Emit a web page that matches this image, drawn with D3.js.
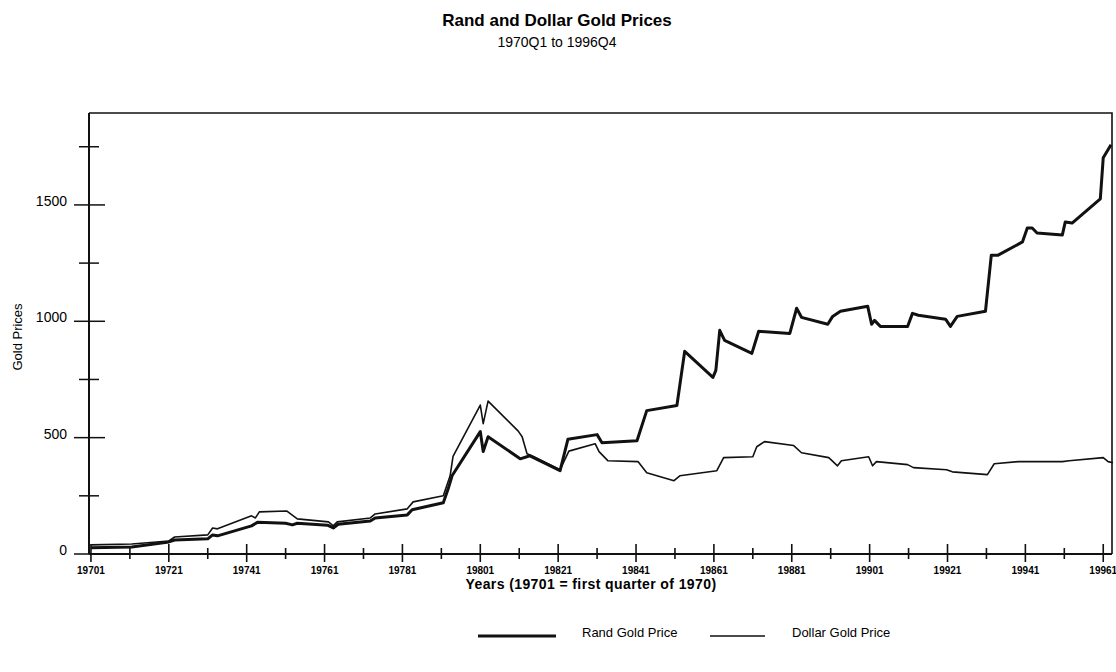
<!DOCTYPE html>
<html>
<head>
<meta charset="utf-8">
<script src="https://cdn.jsdelivr.net/npm/d3@7"></script>
<style>
  body { margin: 0; background: #fff; }
  svg { display: block; font-family: Arial, "Liberation Sans", sans-serif; }
</style>
</head>
<body>
<div id="canvas"></div>
<script>
// quarters since 1970Q1 (0 = 19701) and prices
var randQuarter = [0, 4.2, 8, 8.6, 12, 12.5, 13, 16.5, 17.1, 20, 20.7, 21.2, 24.3, 24.9, 25.4,
    28.7, 29.2, 32.5, 33, 36.2, 36.7, 37.1, 40, 40.3, 40.8, 44.1, 45.1, 48.2, 49, 52,
    52.5, 56.1, 57.1, 60.2, 61, 63.9, 64.2, 64.6, 65.1, 67.9, 68.6, 71.8, 72.5, 73, 75.7,
    76.2, 77, 79.8, 80.2, 80.5, 81.1, 83.9, 84.4, 85, 87.8, 88.3, 89, 91.9, 92.5, 93.2,
    95.7, 96.2, 96.7, 97.2, 99.8, 100.1, 100.8, 103.7, 104, 104.8];
var randPrice = [27, 30, 52, 60, 65, 82, 78, 121, 136, 132, 125, 132, 124, 112, 128,
    142, 155, 168, 190, 220, 280, 336, 526, 440, 504, 409, 422, 358, 493, 513,
    478, 487, 616, 638, 871, 759, 789, 961, 918, 862, 957, 948, 1056, 1017, 987,
    1021, 1043, 1065, 987, 1004, 978, 978, 1034, 1026, 1009, 978, 1021, 1043, 1284, 1284,
    1341, 1401, 1401, 1379, 1371, 1427, 1422, 1526, 1703, 1759];

var dollarQuarter = [0, 4.2, 8, 8.6, 12, 12.5, 13, 16.5, 16.9, 17.3, 20.1, 21.2, 24.4, 24.9, 25.3,
    28.7, 29.2, 32.5, 33.1, 36.2, 36.9, 37.2, 40, 40.3, 40.8, 43.9, 44.3, 44.8, 45.3, 48.2,
    49.1, 51.8, 52.2, 53.1, 56.2, 57.1, 59.9, 60.5, 64.3, 65, 68, 68.4, 69.2, 72.2, 73,
    75.8, 76.7, 77.1, 79.9, 80.3, 80.7, 83.9, 84.5, 87.9, 88.5, 92.1, 92.8, 95.3, 99.8, 100.5,
    104, 104.5, 105];
var dollarPrice = [39, 43, 56, 73, 82, 112, 108, 164, 155, 181, 185, 151, 138, 121, 138,
    155, 172, 194, 224, 250, 336, 420, 640, 560, 657, 528, 504, 431, 422, 362,
    442, 474, 440, 401, 397, 349, 315, 336, 358, 414, 418, 461, 483, 466, 435,
    414, 379, 401, 418, 379, 397, 384, 371, 362, 353, 341, 388, 397, 397, 401,
    414, 397, 392];

var xTickLabels = ["19701", "19721", "19741", "19761", "19781", "19801", "19821",
    "19841", "19861", "19881", "19901", "19921", "19941", "19961"];
var yTickValues = [0, 500, 1000, 1500];
var yMinorValues = [250, 750, 1250, 1750];

var width = 1116, height = 672;
var plotLeft = 89, plotRight = 1112, plotTop = 113, plotBottom = 554;

var svg = d3.select(document.getElementById("canvas")).append("svg")
    .attr("width", width)
    .attr("height", height);

var x = d3.scaleLinear().domain([-0.2, 104.9]).range([plotLeft, plotRight]);
var y = d3.scaleLinear().domain([0, 1895]).range([plotBottom, plotTop]);

// title
svg.append("text")
    .attr("x", 557).attr("y", 26)
    .attr("text-anchor", "middle")
    .style("font-size", "17px").style("font-weight", "bold")
    .text("Rand and Dollar Gold Prices");
svg.append("text")
    .attr("x", 557).attr("y", 47)
    .attr("text-anchor", "middle")
    .style("font-size", "14px")
    .text("1970Q1 to 1996Q4");

// frame (top, right) - left and bottom come from the axes
svg.append("path")
    .attr("d", "M" + plotLeft + "," + plotTop + "H" + plotRight + "V" + plotBottom)
    .attr("fill", "none")
    .attr("stroke", "#111")
    .attr("stroke-width", 1.6);

// y axis, ticks cross the axis line
var yAxis = svg.append("g").attr("transform", "translate(" + plotLeft + ",0)");
yAxis.append("line")
    .attr("y1", plotTop).attr("y2", plotBottom)
    .attr("stroke", "#111").attr("stroke-width", 2);
yAxis.selectAll(".ymajor").data(yTickValues).enter().append("line")
    .attr("x1", -15).attr("x2", 16)
    .attr("y1", function(d) { return y(d); })
    .attr("y2", function(d) { return y(d); })
    .attr("stroke", "#111").attr("stroke-width", 1.5);
yAxis.selectAll(".yminor").data(yMinorValues).enter().append("line")
    .attr("x1", -10).attr("x2", 10)
    .attr("y1", function(d) { return y(d); })
    .attr("y2", function(d) { return y(d); })
    .attr("stroke", "#111").attr("stroke-width", 1.5);
yAxis.selectAll(".ylabel").data(yTickValues).enter().append("text")
    .attr("x", -22)
    .attr("y", function(d) { return y(d) + 1; })
    .attr("text-anchor", "end")
    .style("font-size", "14px")
    .text(function(d) { return d; });

svg.append("text")
    .attr("transform", "translate(22,337) rotate(-90)")
    .attr("text-anchor", "middle")
    .style("font-size", "13px")
    .text("Gold Prices");

// x axis: labelled tick every 2 years, minor tick every year between
var xAxis = svg.append("g").attr("transform", "translate(0," + plotBottom + ")");
xAxis.append("line")
    .attr("x1", plotLeft).attr("x2", plotRight)
    .attr("stroke", "#111").attr("stroke-width", 2);
xAxis.selectAll(".xmajor").data(xTickLabels).enter().append("line")
    .attr("x1", function(d, i) { return x(i * 8); })
    .attr("x2", function(d, i) { return x(i * 8); })
    .attr("y1", -10).attr("y2", 8)
    .attr("stroke", "#111").attr("stroke-width", 1.6);
xAxis.selectAll(".xminor").data(xTickLabels.slice(0, -1)).enter().append("line")
    .attr("x1", function(d, i) { return x(i * 8 + 4); })
    .attr("x2", function(d, i) { return x(i * 8 + 4); })
    .attr("y1", -6).attr("y2", 5)
    .attr("stroke", "#111").attr("stroke-width", 1.6);
xAxis.selectAll(".xlabel").data(xTickLabels).enter().append("text")
    .attr("x", function(d, i) { return x(i * 8); })
    .attr("y", 20)
    .attr("text-anchor", "middle")
    .style("font-size", "10px").style("font-weight", "bold")
    .text(function(d) { return d; });

svg.append("text")
    .attr("x", 591).attr("y", 589)
    .attr("text-anchor", "middle")
    .style("font-size", "14px").style("font-weight", "bold")
    .style("letter-spacing", "0.4px")
    .text("Years (19701 = first quarter of 1970)");

// series
var line = d3.line()
    .x(function(d) { return x(d[0]); })
    .y(function(d) { return y(d[1]); });

var randPoints = d3.zip(randQuarter, randPrice);
var dollarPoints = d3.zip(dollarQuarter, dollarPrice);

svg.append("path")
    .datum(dollarPoints)
    .attr("d", line)
    .attr("fill", "none")
    .attr("stroke", "#111")
    .attr("stroke-width", 1.6)
    .attr("stroke-linejoin", "round");

svg.append("path")
    .datum(randPoints)
    .attr("d", line)
    .attr("fill", "none")
    .attr("stroke", "#111")
    .attr("stroke-width", 3)
    .attr("stroke-linejoin", "round");

// legend
var legend = svg.append("g");
legend.append("line")
    .attr("x1", 478).attr("x2", 556).attr("y1", 636).attr("y2", 636)
    .attr("stroke", "#111").attr("stroke-width", 3);
legend.append("text")
    .attr("x", 582).attr("y", 637)
    .style("font-size", "13px")
    .text("Rand Gold Price");
legend.append("line")
    .attr("x1", 710).attr("x2", 765).attr("y1", 636).attr("y2", 636)
    .attr("stroke", "#111").attr("stroke-width", 1.5);
legend.append("text")
    .attr("x", 792).attr("y", 637)
    .style("font-size", "13px")
    .text("Dollar Gold Price");
</script>
</body>
</html>
